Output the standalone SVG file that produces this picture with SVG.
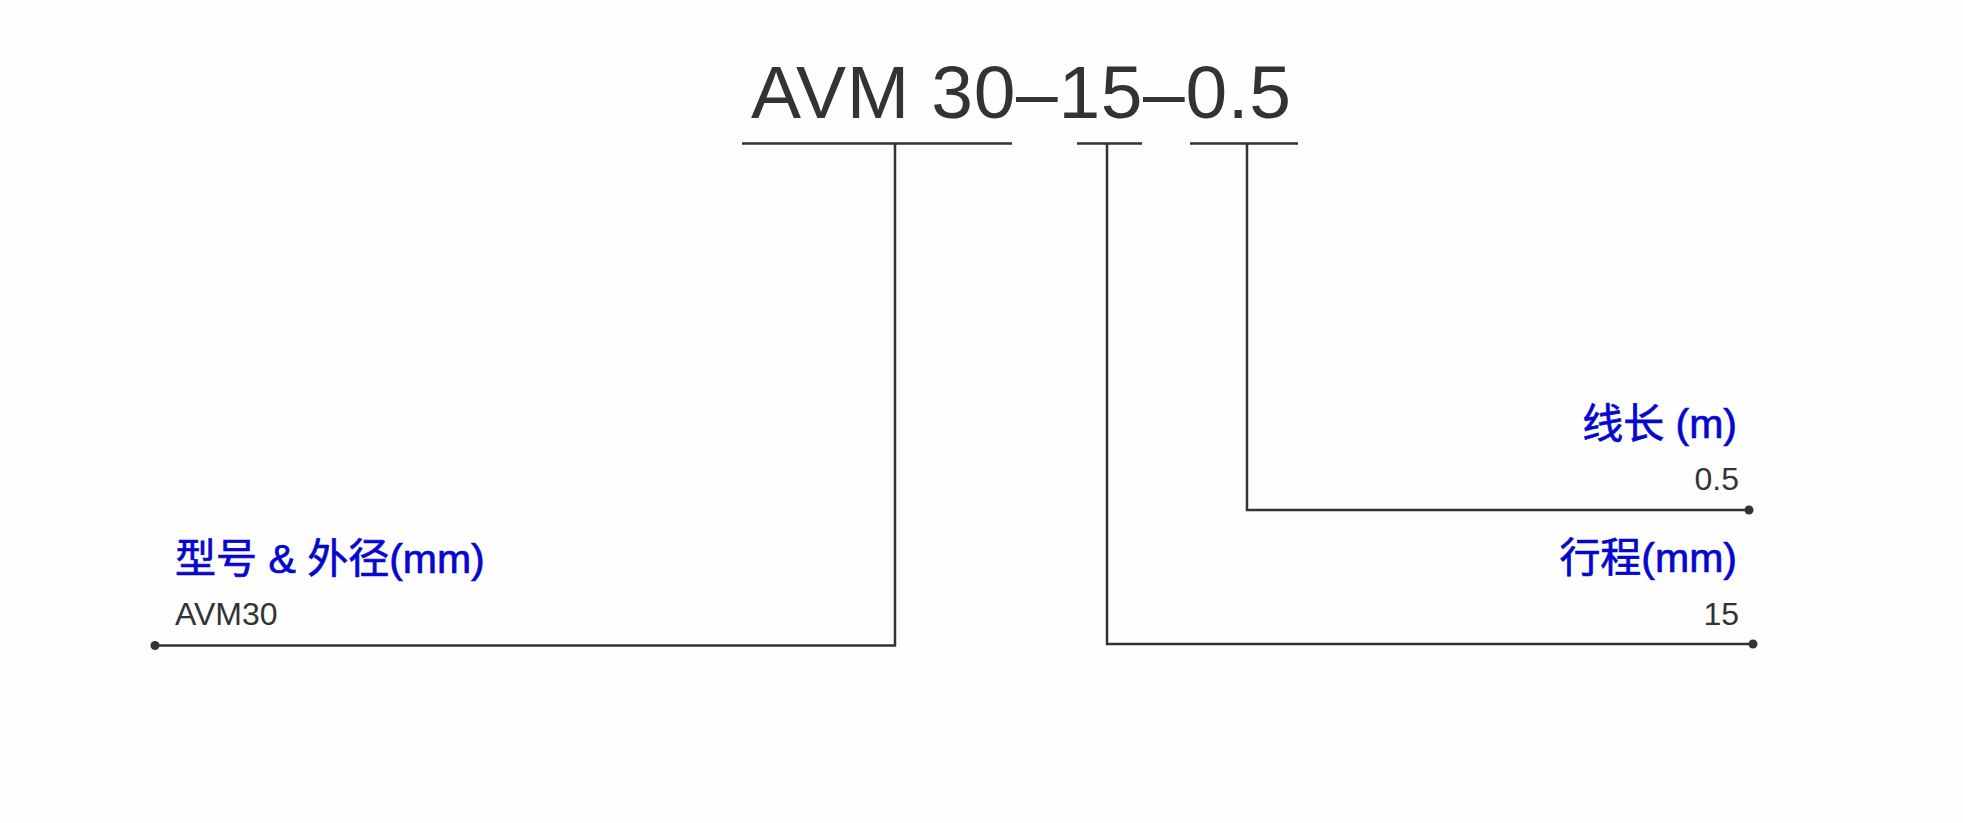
<svg xmlns="http://www.w3.org/2000/svg" width="1963" height="823" viewBox="0 0 1963 823">
  <style>
    .title { font-family: "Liberation Sans", Arial, sans-serif; font-size: 75px; fill: #333333; }
    .label { font-family: "Liberation Sans", "Noto Sans CJK SC", sans-serif; font-size: 41px; fill: #0606d0; stroke: #0606d0; stroke-width: 0.7px; }
    .value { font-family: "Liberation Sans", Arial, sans-serif; font-size: 32px; fill: #333333; }
    .line { fill: none; stroke: #333333; stroke-width: 2.5; }
    .dot { fill: #333333; }
  </style>
  <rect x="0" y="0" width="1963" height="823" fill="#fefefe"/>

  <g id="title">
    <text class="title" x="751" y="118" textLength="540" lengthAdjust="spacing">AVM 30–15–0.5</text>
  </g>

  <g id="connectors">
    <path class="line" d="M742 143.5 H1012 M895 143.5 V645.5 H155"/>
    <circle class="dot" cx="155" cy="645.5" r="4.5"/>
    <path class="line" d="M1077 143.5 H1142 M1107 143.5 V644 H1753"/>
    <circle class="dot" cx="1753" cy="644" r="4.5"/>
    <path class="line" d="M1190 143.5 H1298 M1247 143.5 V510 H1749"/>
    <circle class="dot" cx="1749" cy="510" r="4.5"/>
  </g>

  <g id="node-model">
    <text class="label" x="175" y="573">型号 &amp; 外径(mm)</text>
    <text class="value" x="175" y="625">AVM30</text>
  </g>

  <g id="node-stroke">
    <text class="label" x="1737" y="572" text-anchor="end">行程(mm)</text>
    <text class="value" x="1739" y="625" text-anchor="end">15</text>
  </g>

  <g id="node-cable">
    <text class="label" x="1737" y="438" text-anchor="end">线长 (m)</text>
    <text class="value" x="1739" y="490" text-anchor="end">0.5</text>
  </g>
</svg>
